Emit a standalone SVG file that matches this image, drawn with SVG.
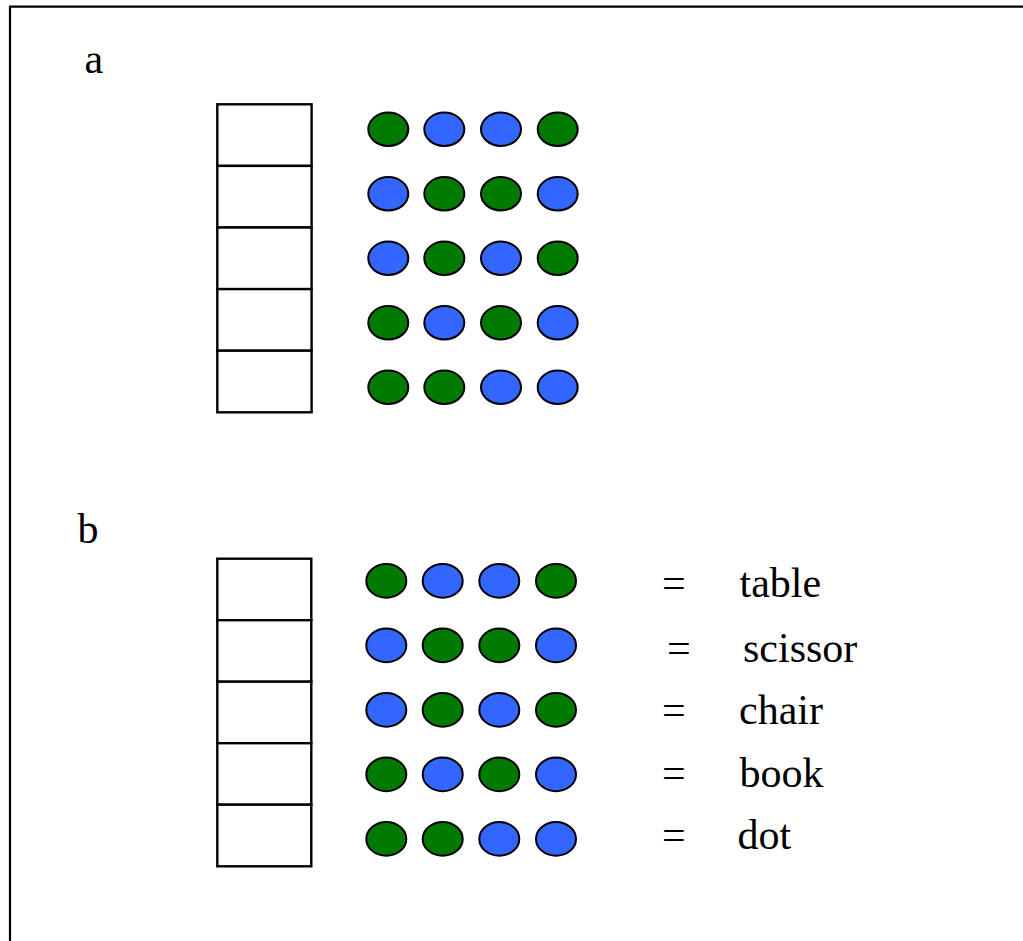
<svg xmlns="http://www.w3.org/2000/svg" width="1023" height="941" viewBox="0 0 1023 941">
  <defs>
    <style>
      .frame { fill: none; stroke: #000; stroke-width: 2.2; }
      .cell { fill: #fff; stroke: #000; stroke-width: 2.4; }
      .g { fill: #007a00; stroke: #000; stroke-width: 2; }
      .b { fill: #3366ff; stroke: #000; stroke-width: 2; }
      .t { font-family: "Liberation Serif", "Times New Roman", serif; font-size: 42px; fill: #000; }
    </style>
  </defs>
  <rect width="1023" height="941" fill="#fff"/>
  <!-- outer frame, open at the right and bottom -->
  <path class="frame" d="M10,945 V6.7 H1025"/>

  <!-- part a -->
  <g id="label-a"><text class="t" x="84.5" y="72.5">a</text></g>
  <g id="stack-a">
    <rect class="cell" x="217.3" y="104.3" width="94.3" height="61.6"/>
    <rect class="cell" x="217.3" y="165.9" width="94.3" height="61.6"/>
    <rect class="cell" x="217.3" y="227.5" width="94.3" height="61.6"/>
    <rect class="cell" x="217.3" y="289.1" width="94.3" height="61.6"/>
    <rect class="cell" x="217.3" y="350.7" width="94.3" height="61.6"/>
  </g>
  <g id="dots-a">
    <g id="a-row1">
      <ellipse class="g" cx="388.3" cy="129.3" rx="20" ry="16.7"/>
      <ellipse class="b" cx="444.3" cy="129.3" rx="20" ry="16.7"/>
      <ellipse class="b" cx="501" cy="129.3" rx="20" ry="16.7"/>
      <ellipse class="g" cx="557.7" cy="129.3" rx="20" ry="16.7"/>
    </g>
    <g id="a-row2">
      <ellipse class="b" cx="388.3" cy="193.8" rx="20" ry="16.7"/>
      <ellipse class="g" cx="444.3" cy="193.8" rx="20" ry="16.7"/>
      <ellipse class="g" cx="501" cy="193.8" rx="20" ry="16.7"/>
      <ellipse class="b" cx="557.7" cy="193.8" rx="20" ry="16.7"/>
    </g>
    <g id="a-row3">
      <ellipse class="b" cx="388.3" cy="258.3" rx="20" ry="16.7"/>
      <ellipse class="g" cx="444.3" cy="258.3" rx="20" ry="16.7"/>
      <ellipse class="b" cx="501" cy="258.3" rx="20" ry="16.7"/>
      <ellipse class="g" cx="557.7" cy="258.3" rx="20" ry="16.7"/>
    </g>
    <g id="a-row4">
      <ellipse class="g" cx="388.3" cy="322.8" rx="20" ry="16.7"/>
      <ellipse class="b" cx="444.3" cy="322.8" rx="20" ry="16.7"/>
      <ellipse class="g" cx="501" cy="322.8" rx="20" ry="16.7"/>
      <ellipse class="b" cx="557.7" cy="322.8" rx="20" ry="16.7"/>
    </g>
    <g id="a-row5">
      <ellipse class="g" cx="388.3" cy="387.3" rx="20" ry="16.7"/>
      <ellipse class="g" cx="444.3" cy="387.3" rx="20" ry="16.7"/>
      <ellipse class="b" cx="501" cy="387.3" rx="20" ry="16.7"/>
      <ellipse class="b" cx="557.7" cy="387.3" rx="20" ry="16.7"/>
    </g>
  </g>

  <!-- part b -->
  <g id="label-b"><text class="t" x="77.5" y="543.3">b</text></g>
  <g id="stack-b">
    <rect class="cell" x="217.3" y="558.7" width="94" height="61.5"/>
    <rect class="cell" x="217.3" y="620.2" width="94" height="61.5"/>
    <rect class="cell" x="217.3" y="681.7" width="94" height="61.5"/>
    <rect class="cell" x="217.3" y="743.2" width="94" height="61.5"/>
    <rect class="cell" x="217.3" y="804.7" width="94" height="61.6"/>
  </g>
  <g id="dots-b">
    <g id="b-row1">
      <ellipse class="g" cx="386.3" cy="580.9" rx="20" ry="16.8"/>
      <ellipse class="b" cx="442.7" cy="580.9" rx="20" ry="16.8"/>
      <ellipse class="b" cx="499.3" cy="580.9" rx="20" ry="16.8"/>
      <ellipse class="g" cx="556" cy="580.9" rx="20" ry="16.8"/>
    </g>
    <g id="b-row2">
      <ellipse class="b" cx="386.3" cy="645.4" rx="20" ry="16.8"/>
      <ellipse class="g" cx="442.7" cy="645.4" rx="20" ry="16.8"/>
      <ellipse class="g" cx="499.3" cy="645.4" rx="20" ry="16.8"/>
      <ellipse class="b" cx="556" cy="645.4" rx="20" ry="16.8"/>
    </g>
    <g id="b-row3">
      <ellipse class="b" cx="386.3" cy="709.9" rx="20" ry="16.8"/>
      <ellipse class="g" cx="442.7" cy="709.9" rx="20" ry="16.8"/>
      <ellipse class="b" cx="499.3" cy="709.9" rx="20" ry="16.8"/>
      <ellipse class="g" cx="556" cy="709.9" rx="20" ry="16.8"/>
    </g>
    <g id="b-row4">
      <ellipse class="g" cx="386.3" cy="774.4" rx="20" ry="16.8"/>
      <ellipse class="b" cx="442.7" cy="774.4" rx="20" ry="16.8"/>
      <ellipse class="g" cx="499.3" cy="774.4" rx="20" ry="16.8"/>
      <ellipse class="b" cx="556" cy="774.4" rx="20" ry="16.8"/>
    </g>
    <g id="b-row5">
      <ellipse class="g" cx="386.3" cy="838.9" rx="20" ry="16.8"/>
      <ellipse class="g" cx="442.7" cy="838.9" rx="20" ry="16.8"/>
      <ellipse class="b" cx="499.3" cy="838.9" rx="20" ry="16.8"/>
      <ellipse class="b" cx="556" cy="838.9" rx="20" ry="16.8"/>
    </g>
  </g>

  <!-- legend: pattern = word -->
  <g id="legend">
    <text class="t" x="662" y="597">=</text>
    <text class="t" x="739.5" y="597">table</text>
    <text class="t" x="667" y="661.5">=</text>
    <text class="t" x="743" y="661.5">scissor</text>
    <text class="t" x="662" y="724">=</text>
    <text class="t" x="739" y="724">chair</text>
    <text class="t" x="662" y="786.7">=</text>
    <text class="t" x="739.5" y="786.7">book</text>
    <text class="t" x="662" y="849.3">=</text>
    <text class="t" x="737.5" y="849.3">dot</text>
  </g>
</svg>
